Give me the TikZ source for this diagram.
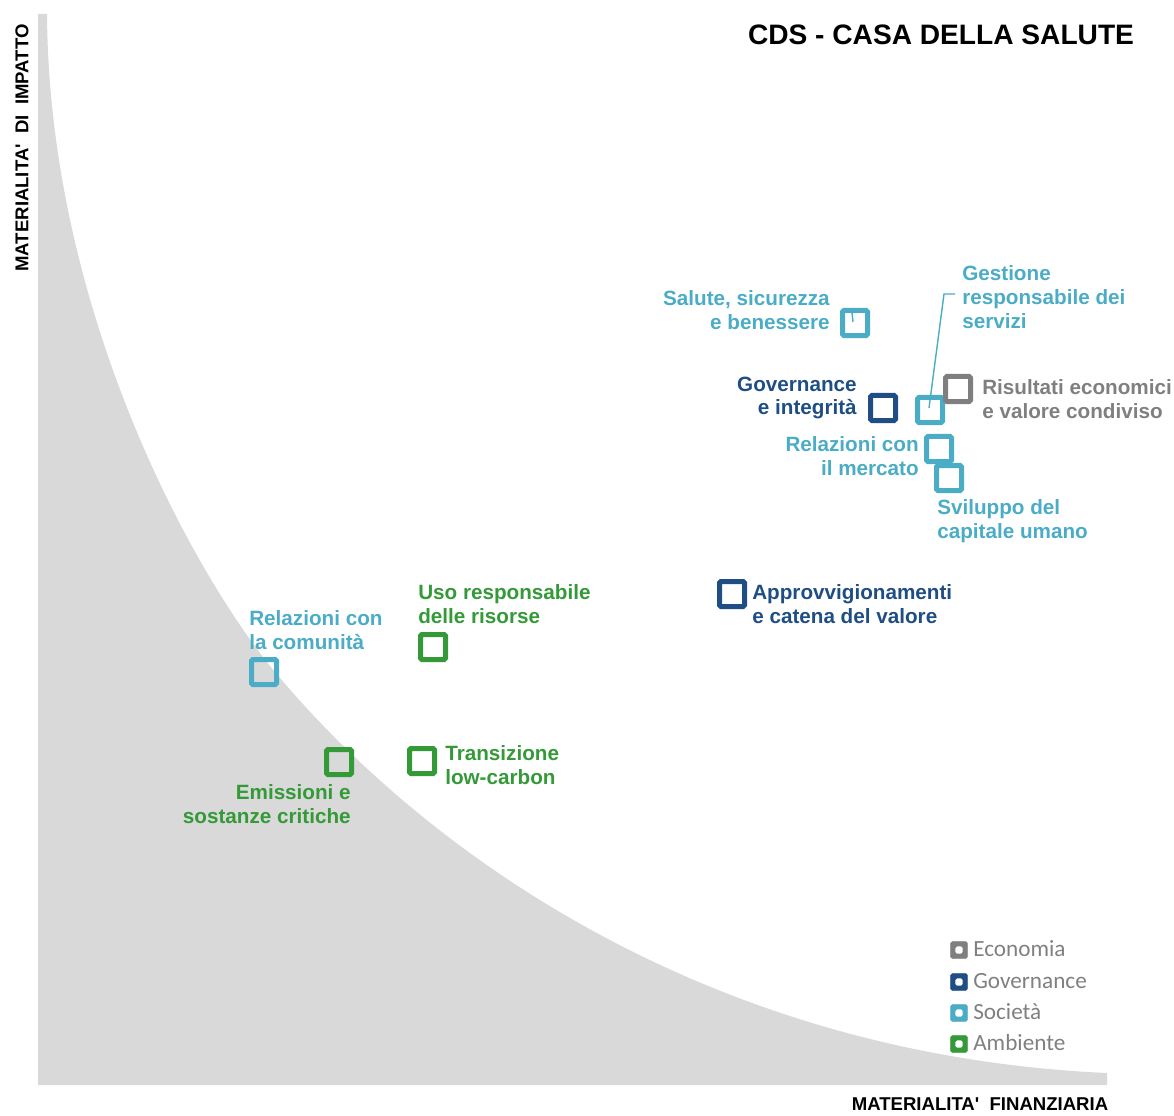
\documentclass[tikz,border=0pt]{standalone}
\usepackage{fontspec}
\setmainfont{Liberation Sans}
\newfontfamily\axfont{Liberation Sans}
\newfontfamily\legfont{Carlito}
\usetikzlibrary{calc}
\definecolor{areagray}{HTML}{D9D9D9}
\definecolor{soc}{HTML}{4BACC6}
\definecolor{gov}{HTML}{1F4E85}
\definecolor{eco}{HTML}{7F7F7F}
\definecolor{amb}{HTML}{349A38}
\definecolor{legtext}{HTML}{808080}
\begin{document}
\begin{tikzpicture}[x=0.025cm,y=-0.025cm,
  topic/.style={draw=#1, line width=0.125cm, minimum size=0.625cm, inner sep=0pt, rounded corners=1pt},
  lab/.style={text=#1, inner sep=0pt, font=\bfseries\fontsize{14.7}{17}\selectfont},
  legsq/.style={fill=#1, draw=#1, line width=0.4pt, minimum size=0.42cm, inner sep=0pt, rounded corners=1.2pt,
    path picture={\fill[white] ([shift={(-0.09cm,-0.09cm)}]path picture bounding box.center) rectangle ([shift={(0.09cm,0.09cm)}]path picture bounding box.center);}},
  legtx/.style={text=legtext, inner sep=0pt, anchor=west, font=\legfont\fontsize{16.5}{18}\selectfont},
  axlab/.style={inner sep=0pt, font=\axfont\bfseries\fontsize{13.2}{15}\selectfont},
  leader/.style={draw=soc, line width=1pt}
]
\useasboundingbox (0,0) rectangle (1174,1115);

% grey area under the threshold curve
\fill[areagray] (38,14) -- (47,14)
  .. controls (49,314) and (195,576) .. (275,672)
  .. controls (425,852) and (707,1055) .. (1107,1073)
  -- (1107,1085) -- (38,1085) -- cycle;

% title and axes
\node[font=\bfseries\fontsize{20}{22}\selectfont, inner sep=0pt] (title) at (941,35) {CDS - CASA DELLA SALUTE};
\node[axlab, rotate=90] (ylab) at (22,148) {MATERIALITA'\ \ DI\ \ IMPATTO};
\node[axlab] (xlab) at (980,1104) {MATERIALITA'\ \ FINANZIARIA};

% topic squares
\node[topic=soc] (sbox) at (855,323) {};
\node[topic=gov] (govbox) at (883,408) {};
\node[topic=soc] (gbox) at (930,410) {};
\node[topic=eco] (rbox) at (958,389) {};
\node[topic=soc] (mbox) at (939,449) {};
\node[topic=soc] (svbox) at (949,478) {};
\node[topic=gov] (abox) at (732,594) {};
\node[topic=amb] (ubox) at (433,647) {};
\node[topic=soc] (cbox) at (264,672) {};
\node[topic=amb] (ebox) at (339,762) {};
\node[topic=amb] (tbox) at (422,761) {};

% labels
\node[lab=soc, anchor=east, align=right] (lsal) at (830,310) {Salute, sicurezza\\e benessere};
\node[lab=soc, anchor=west, align=left] (lges) at (962,297) {Gestione\\responsabile dei\\servizi};
\node[lab=gov, anchor=east, align=right] (lgov) at (857,398) {Governance\\e integrità};
\node[lab=eco, anchor=west, align=left] (lris) at (982,399) {Risultati economici\\e valore condiviso};
\node[lab=soc, anchor=east, align=right] (lmer) at (919,456) {Relazioni con\\il mercato};
\node[lab=soc, anchor=west, align=left] (lsvi) at (937,521) {Sviluppo del\\capitale umano};
\node[lab=gov, anchor=west, align=left] (lapp) at (752,604) {Approvvigionamenti\\e catena del valore};
\node[lab=amb, anchor=west, align=left] (luso) at (418,604) {Uso responsabile\\delle risorse};
\node[lab=soc, anchor=west, align=left] (lcom) at (249,630) {Relazioni con\\la comunità};
\node[lab=amb, anchor=west, align=left] (ltra) at (445,765) {Transizione\\low-carbon};
\node[lab=amb, anchor=east, align=right] (lemi) at (351,804) {Emissioni e\\sostanze critiche};

% leader lines
\coordinate (gl) at (955,294);
\draw[leader] (gl) -- ++(-11,0) -- ($(gbox.center)+(-1,-2)$);
\draw[leader] ($(sbox.center)+(-3,-10)$) -- ($(sbox.center)+(-2,-1)$);

% legend
\node[legsq=eco] (leg1) at (959,950) {};
\node[legsq=gov] (leg2) at (959,982) {};
\node[legsq=soc] (leg3) at (959,1013) {};
\node[legsq=amb] (leg4) at (959,1044) {};
\node[legtx] (legt1) at (973,949) {Economia};
\node[legtx] (legt2) at (973,981) {Governance};
\node[legtx] (legt3) at (973,1012) {Società};
\node[legtx] (legt4) at (973,1043) {Ambiente};
\end{tikzpicture}
\end{document}
